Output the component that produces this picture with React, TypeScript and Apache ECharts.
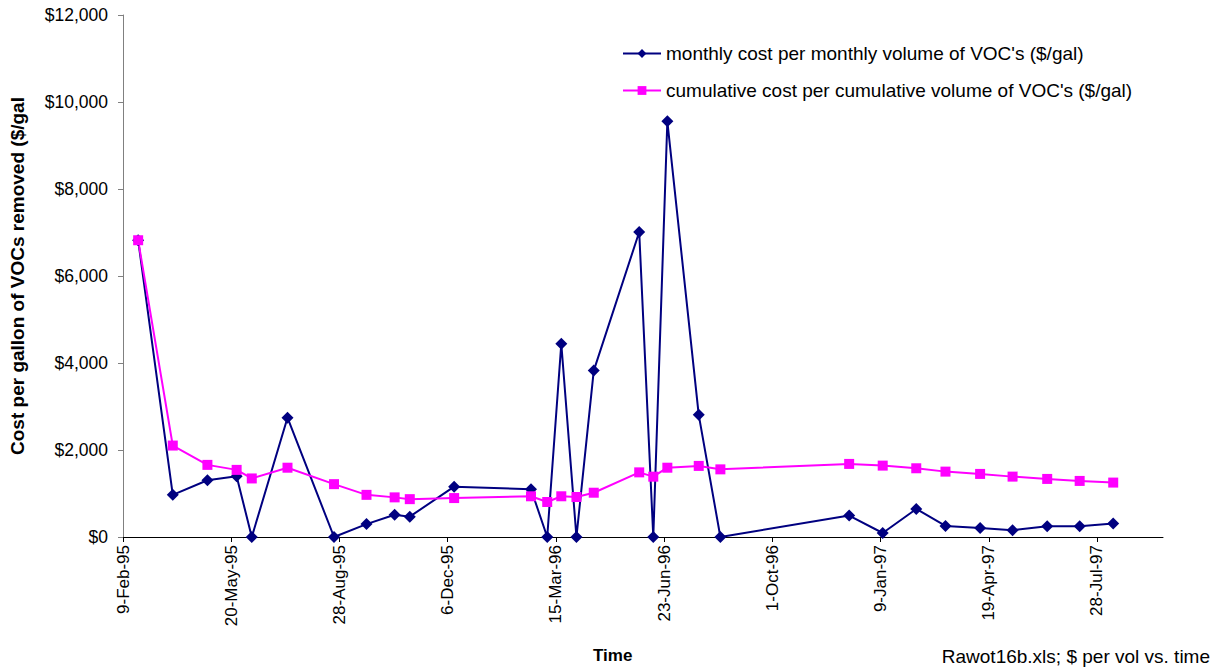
import React, { useEffect, useRef } from "react";
import * as echarts from "echarts";

// Sample dates
const dates = [
  "1995-02-23", "1995-03-27", "1995-04-28", "1995-05-25", "1995-06-08",
  "1995-07-11", "1995-08-23", "1995-09-22", "1995-10-18", "1995-11-01",
  "1995-12-12", "1996-02-21", "1996-03-07", "1996-03-20", "1996-04-03",
  "1996-04-19", "1996-05-31", "1996-06-13", "1996-06-26", "1996-07-25",
  "1996-08-14", "1996-12-11", "1997-01-11", "1997-02-11", "1997-03-10",
  "1997-04-11", "1997-05-11", "1997-06-12", "1997-07-12", "1997-08-12",
];

// monthly cost per monthly volume of VOC's ($/gal)
const monthly = [
  6822, 969, 1305, 1396, 0,
  2742, 0, 296, 513, 468,
  1158, 1100, 0, 4442, 0,
  3826, 7011, 0, 9556, 2808,
  0, 492, 92, 645, 255,
  208, 155, 247, 247, 308,
];

// cumulative cost per cumulative volume of VOC's ($/gal)
const cumulative = [
  6822, 2102, 1658, 1543, 1346,
  1593, 1215, 969, 911, 870,
  895, 936, 805, 936, 920,
  1018, 1486, 1387, 1593, 1634,
  1555, 1680, 1641, 1580, 1503,
  1450, 1388, 1335, 1289, 1251,
];

const seriesNames = [
  "monthly cost per monthly volume of VOC's ($/gal)",
  "cumulative cost per cumulative volume of VOC's ($/gal)",
];

// Axis: starts 9-Feb-95, ticks every 100 days
const AXIS_START = "1995-02-09";
const AXIS_END = "1997-09-27";
const TICK_DAYS = 100;
const yTicks = [0, 2000, 4000, 6000, 8000, 10000, 12000];

const MON = ["Jan", "Feb", "Mar", "Apr", "May", "Jun", "Jul", "Aug", "Sep", "Oct", "Nov", "Dec"];
const DAY = 86400000;
const BASE = Date.parse(AXIS_START + "T00:00:00Z");
const toOffset = (s: string) => Math.round((Date.parse(s + "T00:00:00Z") - BASE) / DAY);
const fmtDate = (v: number) => {
  if (Math.round(v) % TICK_DAYS !== 0) return "";
  const d = new Date(BASE + Math.round(v) * DAY);
  return `${d.getUTCDate()}-${MON[d.getUTCMonth()]}-${String(d.getUTCFullYear()).slice(2)}`;
};
const fmtMoney = (v: number) => "$" + v.toLocaleString("en-US");

const FONT = "'Liberation Sans', Arial, Helvetica, sans-serif";

export default function App() {
  const ref = useRef<HTMLDivElement>(null);
  useEffect(() => {
    if (!ref.current) return;
    const chart = echarts.init(ref.current, null, { renderer: "svg" });
    const xs = dates.map(toOffset);
    chart.setOption({
      animation: false,
      backgroundColor: "#ffffff",
      textStyle: { fontFamily: FONT, color: "#000" },
      grid: { left: 117, top: 15, right: 55, bottom: 134, containLabel: false },
      legend: {
        orient: "vertical",
        left: 617,
        top: 39,
        itemWidth: 38,
        itemHeight: 11,
        itemGap: 18,
        textStyle: { fontFamily: FONT, fontSize: 19, color: "#000" },
        data: seriesNames,
      },
      xAxis: {
        type: "value",
        min: 0,
        max: toOffset(AXIS_END),
        interval: TICK_DAYS,
        splitLine: { show: false },
        axisLine: { lineStyle: { color: "#000", width: 1 } },
        axisTick: { show: true, length: 5, lineStyle: { color: "#000" } },
        axisLabel: {
          rotate: 90,
          margin: 8,
          fontSize: 17,
          fontFamily: FONT,
          color: "#000",
          showMaxLabel: false,
          formatter: fmtDate,
        },
      },
      yAxis: {
        type: "value",
        min: 0,
        max: yTicks[yTicks.length - 1],
        interval: yTicks[1] - yTicks[0],
        splitLine: { show: false },
        axisLine: { show: true, lineStyle: { color: "#808080", width: 1 } },
        axisTick: { show: true, length: 5, lineStyle: { color: "#808080" } },
        axisLabel: { fontSize: 17.5, fontFamily: FONT, color: "#000", margin: 15, formatter: fmtMoney },
        name: "Cost per gallon of VOCs removed ($/gal",
        nameLocation: "middle",
        nameGap: 96,
        nameTextStyle: { fontSize: 19, fontWeight: "bold", fontFamily: FONT, color: "#000" },
      },
      graphic: [
        {
          type: "text",
          left: 593,
          top: 647,
          style: { text: "Time", fontSize: 17, fontWeight: "bold", fontFamily: FONT, fill: "#000" },
        },
        {
          type: "text",
          right: 8,
          top: 647,
          style: { text: "Rawot16b.xls; $ per vol vs. time", fontSize: 19, fontFamily: FONT, fill: "#000" },
        },
      ],
      series: [
        {
          name: seriesNames[0],
          type: "line",
          data: xs.map((x, i) => [x, monthly[i]]),
          symbol: "diamond",
          symbolSize: 12,
          color: "#000080",
          lineStyle: { color: "#000080", width: 2 },
          itemStyle: { color: "#000080" },
        },
        {
          name: seriesNames[1],
          type: "line",
          data: xs.map((x, i) => [x, cumulative[i]]),
          symbol: "rect",
          symbolSize: 10,
          color: "#FF00FF",
          lineStyle: { color: "#FF00FF", width: 2 },
          itemStyle: { color: "#FF00FF" },
        },
      ],
    });
    return () => chart.dispose();
  }, []);
  return (
    <div
      ref={ref}
      style={{ position: "fixed", left: 0, top: 0, width: 1218, height: 671, background: "#fff" }}
    />
  );
}
